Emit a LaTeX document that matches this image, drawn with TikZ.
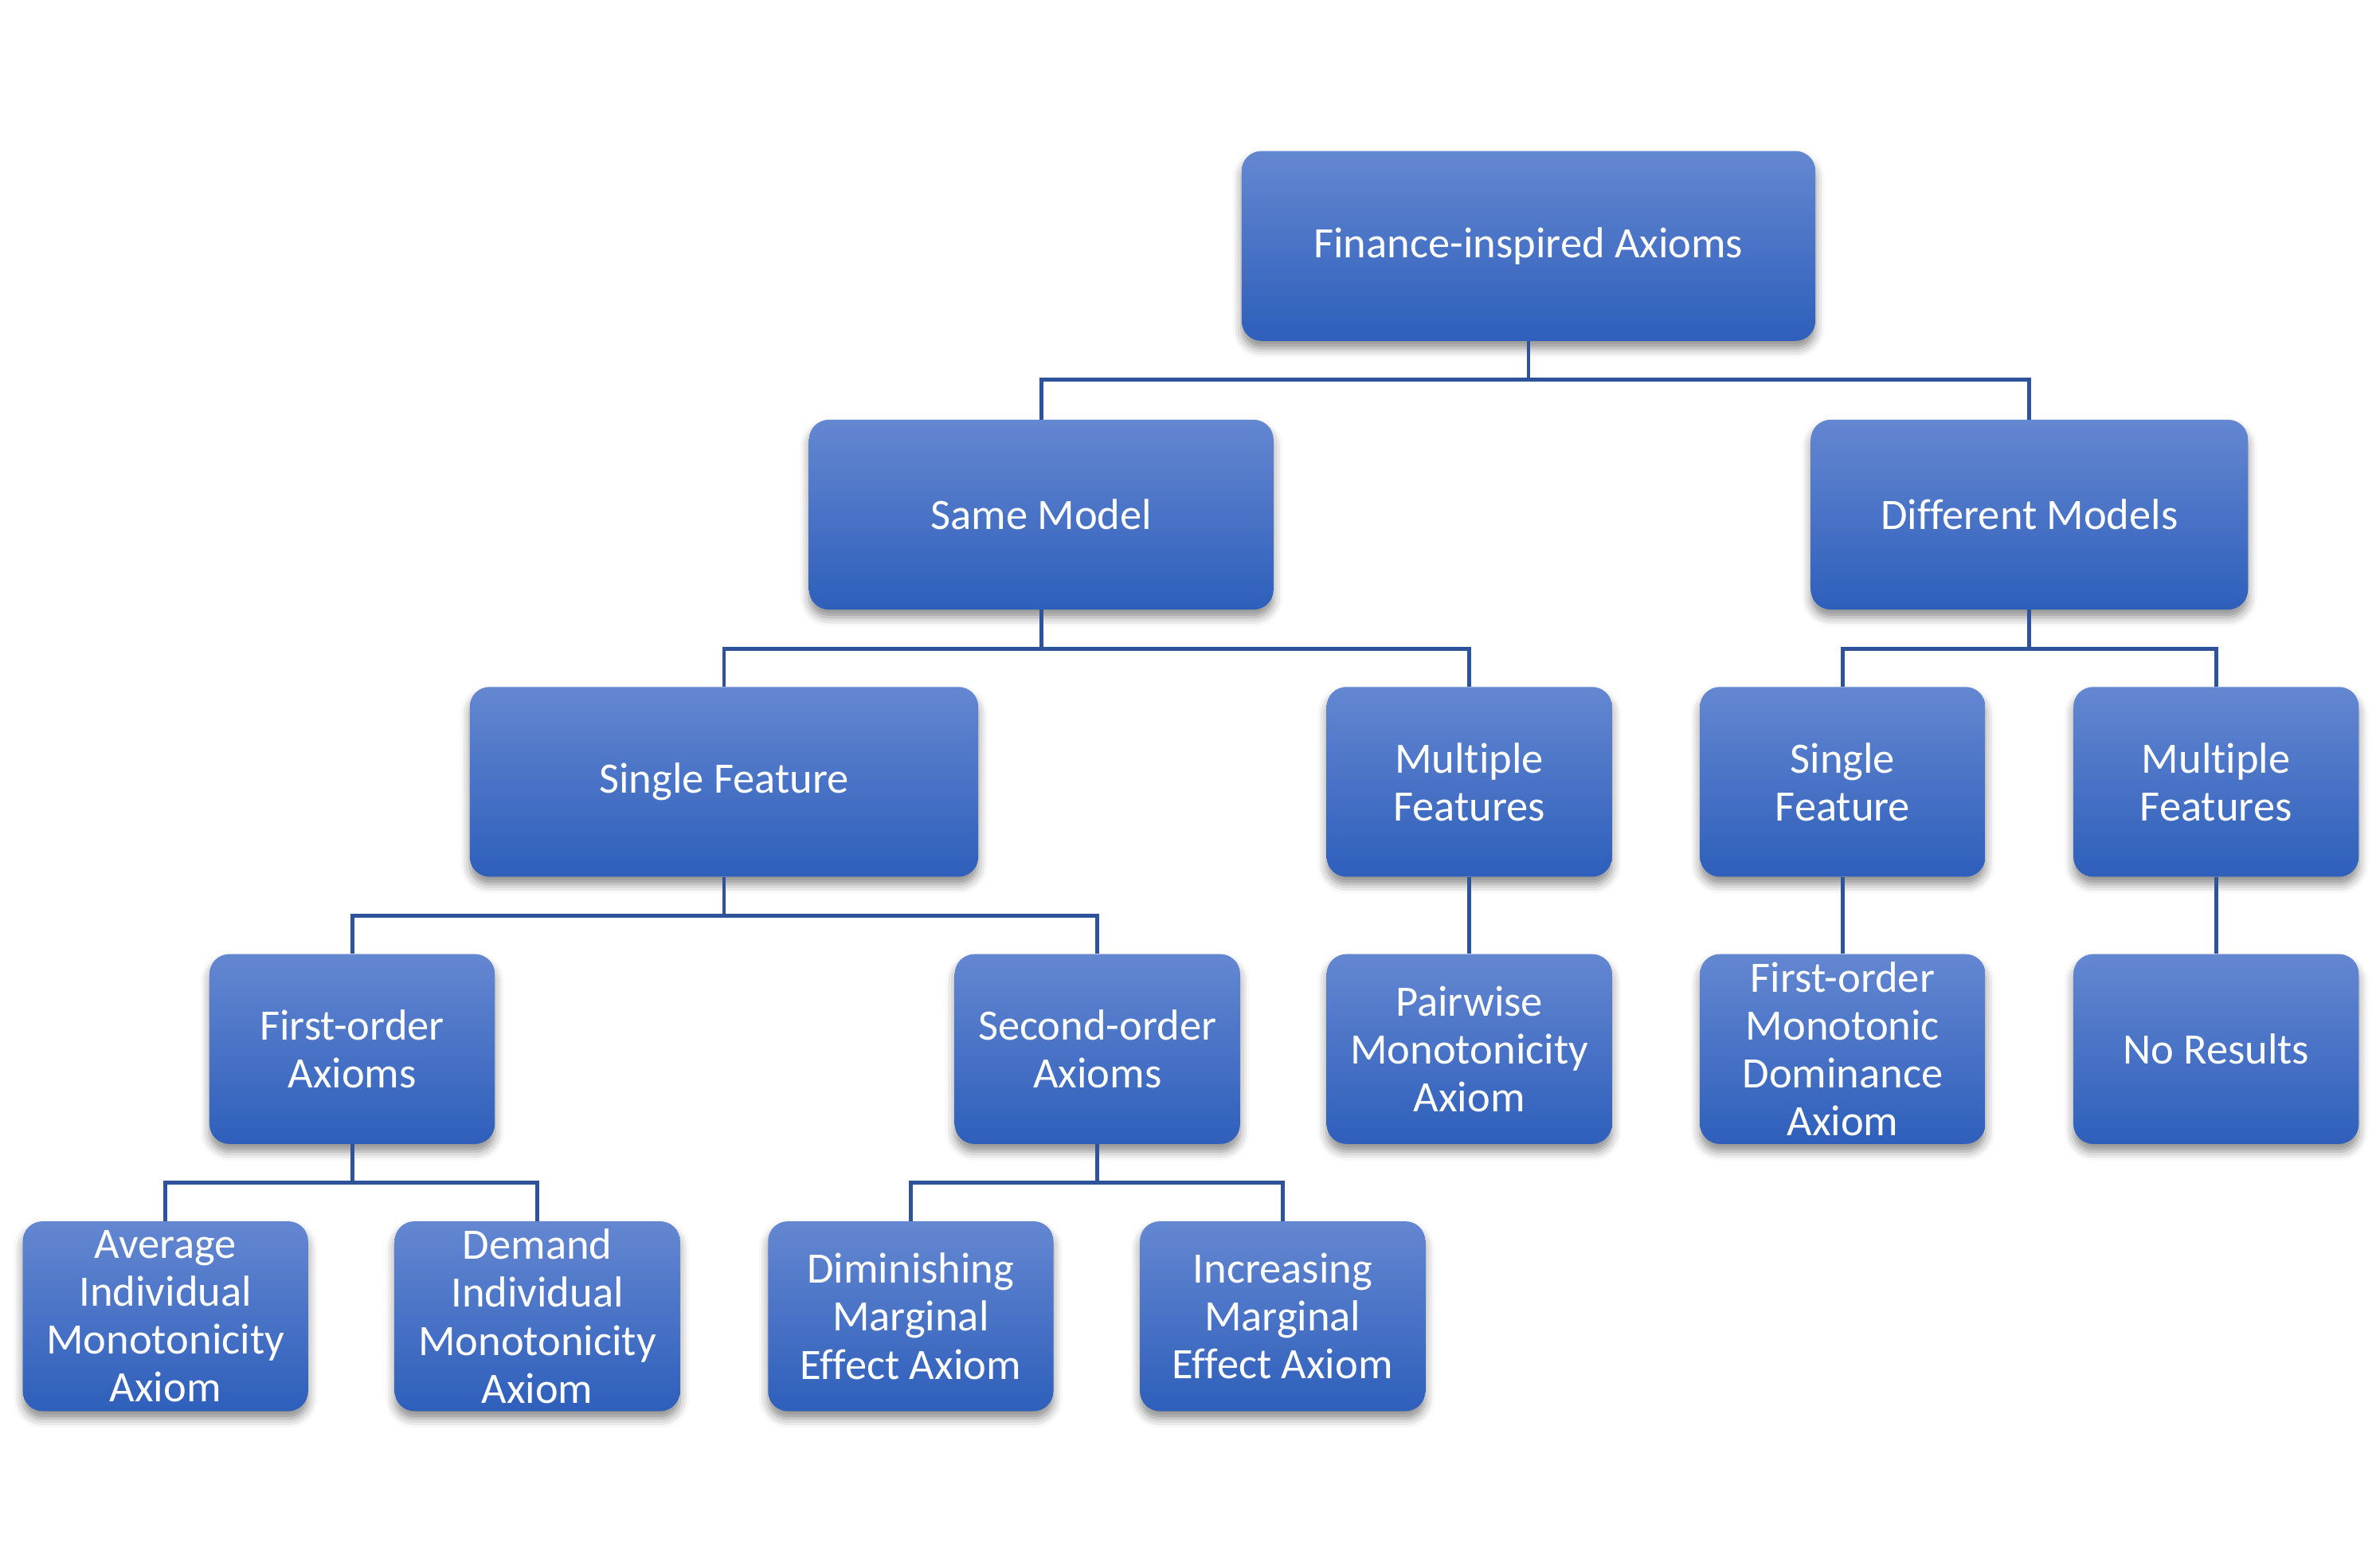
\documentclass[tikz,border=0pt]{standalone}
\usepackage{fontspec}
\setmainfont{Carlito}[Ligatures={NoCommon}]
\usetikzlibrary{shadows.blur}
\definecolor{boxtop}{HTML}{6487D1}
\definecolor{boxbot}{HTML}{2E5FBB}
\definecolor{linkcol}{HTML}{2F539B}
\begin{document}
\begin{tikzpicture}[x=1pt,y=-1pt,
  box/.style={rounded corners=13pt, top color=boxtop, bottom color=boxbot,
    draw=none, text=white, align=center, inner sep=0pt,
    minimum width=188pt, minimum height=125pt,
    font=\fontsize{28.6}{31.6}\selectfont,
    blur shadow={shadow xshift=0pt, shadow yshift=-5pt, shadow blur radius=6pt, shadow opacity=45}},
  link/.style={draw=linkcol, line width=2.6pt}]
\useasboundingbox (0,0) rectangle (1568,1032);
% level 0
\node[box, minimum width=378pt] (root) at (1007,162) {Finance-inspired Axioms};
% level 1
\node[box, minimum width=306pt] (same) at (686,339) {Same Model};
\node[box, minimum width=288pt] (diff) at (1337,339) {Different Models};
% level 2
\node[box, minimum width=335pt] (sfl) at (477,515) {Single Feature};
\node[box] (mfm) at (968,515) {Multiple\\Features};
\node[box] (sfr) at (1214,515) {Single\\Feature};
\node[box] (mfr) at (1460,515) {Multiple\\Features};
% level 3
\node[box] (foa) at (232,691) {First-order\\Axioms};
\node[box] (soa) at (723,691) {Second-order\\Axioms};
\node[box] (pma) at (968,691) {Pairwise\\Monotonicity\\Axiom};
\node[box] (fmd) at (1214,691) {First-order\\Monotonic\\Dominance\\Axiom};
\node[box] (nor) at (1460,691) {No Results};
% level 4
\node[box] (aim) at (109,867) {Average\\Individual\\Monotonicity\\Axiom};
\node[box] (dim) at (354,867) {Demand\\Individual\\Monotonicity\\Axiom};
\node[box] (dma) at (600,867) {Diminishing\\Marginal\\Effect Axiom};
\node[box] (ima) at (845,867) {Increasing\\Marginal\\Effect Axiom};
% connectors
\draw[link] (root.south) -- ++(0,25.5) -| (same.north);
\draw[link] (root.south) -- ++(0,25.5) -| (diff.north);
\draw[link] (same.south) -- ++(0,25.5) -| (sfl.north);
\draw[link] (same.south) -- ++(0,25.5) -| (mfm.north);
\draw[link] (diff.south) -- ++(0,25.5) -| (sfr.north);
\draw[link] (diff.south) -- ++(0,25.5) -| (mfr.north);
\draw[link] (sfl.south) -- ++(0,25.5) -| (foa.north);
\draw[link] (sfl.south) -- ++(0,25.5) -| (soa.north);
\draw[link] (mfm.south) -- (pma.north);
\draw[link] (sfr.south) -- (fmd.north);
\draw[link] (mfr.south) -- (nor.north);
\draw[link] (foa.south) -- ++(0,25.5) -| (aim.north);
\draw[link] (foa.south) -- ++(0,25.5) -| (dim.north);
\draw[link] (soa.south) -- ++(0,25.5) -| (dma.north);
\draw[link] (soa.south) -- ++(0,25.5) -| (ima.north);
\end{tikzpicture}
\end{document}
